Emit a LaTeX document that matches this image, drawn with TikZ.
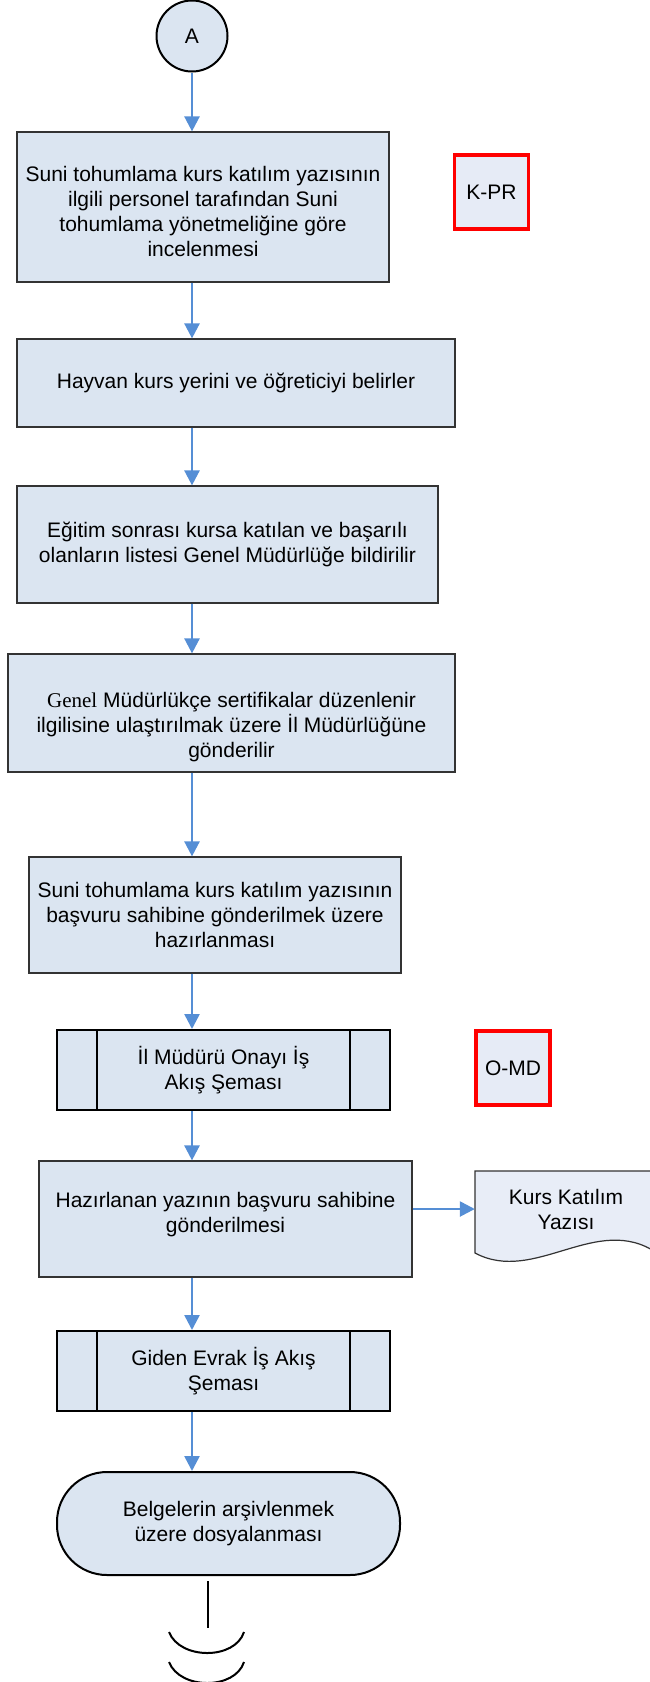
\documentclass[tikz,border=0pt]{standalone}
\usepackage{fontspec}
\setmainfont{Liberation Sans}
\newfontfamily\timesfont{Liberation Serif}
\usetikzlibrary{arrows.meta}

\definecolor{boxfill}{RGB}{219,229,241}
\definecolor{reffill}{RGB}{230,235,246}
\definecolor{docfill}{RGB}{232,237,247}
\definecolor{flowblue}{RGB}{85,142,213}

\tikzset{
  procbox/.style={draw=black!80, line width=1.2pt, fill=boxfill, align=center, inner sep=0pt},
  subproc/.style={procbox, draw=black, line width=2pt,
    path picture={\draw[line width=2pt]
      ([xshift=40pt]path picture bounding box.north west) -- ([xshift=40pt]path picture bounding box.south west)
      ([xshift=-40pt]path picture bounding box.north east) -- ([xshift=-40pt]path picture bounding box.south east);}},
  refbox/.style={draw=red, line width=3.5pt, fill=reffill, inner sep=0pt, minimum width=74pt, minimum height=74pt},
  flow/.style={draw=flowblue, line width=2.5pt, -{Triangle[length=15pt,width=15pt]}},
}

\begin{document}
\begin{tikzpicture}[x=1pt, y=-1pt, font=\fontsize{21}{25}\selectfont]
    \useasboundingbox (0,0) rectangle (650,1682);
    % connector circle
    \node[circle, draw=black, line width=2pt, fill=boxfill, minimum size=71pt, inner sep=0pt] (A) at (192,36) {A};
    % process steps
    \node[procbox, minimum width=372pt, minimum height=150pt] (inceleme) at (203,207)
        {\rule{0pt}{24pt}Suni tohumlama kurs katılım yazısının\\ilgili personel tarafından Suni\\tohumlama yönetmeliğine göre\\incelenmesi};
    \node[refbox] (kpr) at (491.5,192) {K-PR};
    \node[procbox, minimum width=438pt, minimum height=88pt] (yer) at (236,383)
        {Hayvan kurs yerini ve öğreticiyi belirler};
    \node[procbox, minimum width=421pt, minimum height=117pt] (liste) at (227.5,544.5)
        {Eğitim sonrası kursa katılan ve başarılı\\olanların listesi Genel Müdürlüğe bildirilir};
    \node[procbox, minimum width=447pt, minimum height=118pt] (sertifika) at (231.5,713)
        {\rule{0pt}{43pt}{\timesfont Genel} Müdürlükçe sertifikalar düzenlenir\\ilgilisine ulaştırılmak üzere İl Müdürlüğüne\\gönderilir};
    \node[procbox, minimum width=372pt, minimum height=116pt] (hazirlik) at (215,915)
        {Suni tohumlama kurs katılım yazısının\\başvuru sahibine gönderilmek üzere\\hazırlanması};
    \node[subproc, minimum width=333pt, minimum height=80pt] (onay) at (223.5,1070)
        {İl Müdürü Onayı İş\\Akış Şeması};
    \node[refbox] (omd) at (513,1068) {O-MD};
    \node[procbox, minimum width=373pt, minimum height=116pt] (gonder) at (225.5,1219)
        {Hazırlanan yazının başvuru sahibine\\gönderilmesi\rule[-14pt]{0pt}{14pt}};
    % document shape
    \fill[docfill] (475,1171) -- (660,1171) -- (660,1253) -- (657,1253)
        .. controls (597,1212) and (535,1285) .. (475,1253) -- cycle;
    \draw[line width=1.2pt, black!80] (660,1171) -- (475,1171) -- (475,1253)
        .. controls (535,1285) and (597,1212) .. (657,1253);
    \node[align=center, minimum width=182pt, minimum height=76pt, inner sep=0pt] (yazi) at (566,1209)
        {Kurs Katılım\\Yazısı};
    \node[subproc, minimum width=333pt, minimum height=80pt] (evrak) at (223.5,1371)
        {Giden Evrak İş Akış\\Şeması};
    \node[procbox, draw=black, line width=2pt, rounded corners=50pt, minimum width=343pt, minimum height=103pt] (arsiv) at (228.5,1523.5)
        {Belgelerin arşivlenmek\\üzere dosyalanması};
    % arrows
    \draw[flow] (A) -- (inceleme.north -| A);
    \draw[flow] (inceleme.south -| A) -- (yer.north -| A);
    \draw[flow] (yer.south -| A) -- (liste.north -| A);
    \draw[flow] (liste.south -| A) -- (sertifika.north -| A);
    \draw[flow] (sertifika.south -| A) -- (hazirlik.north -| A);
    \draw[flow] (hazirlik.south -| A) -- (onay.north -| A);
    \draw[flow] (onay.south -| A) -- (gonder.north -| A);
    \draw[flow] (gonder.east |- yazi) -- (yazi.west);
    \draw[flow] (gonder.south -| A) -- (evrak.north -| A);
    \draw[flow] (evrak.south -| A) -- (arsiv.north -| A);
    % continuation
    \coordinate (devam) at (208,1628);
    \draw[line width=2pt] ([yshift=-5pt]arsiv.south -| devam) -- (devam);
    \draw[line width=2pt] (169,1632) .. controls (180,1660) and (235,1660) .. (244,1632);
    \draw[line width=2pt] (169,1662) .. controls (180,1690) and (235,1690) .. (244,1662);
\end{tikzpicture}
\end{document}
